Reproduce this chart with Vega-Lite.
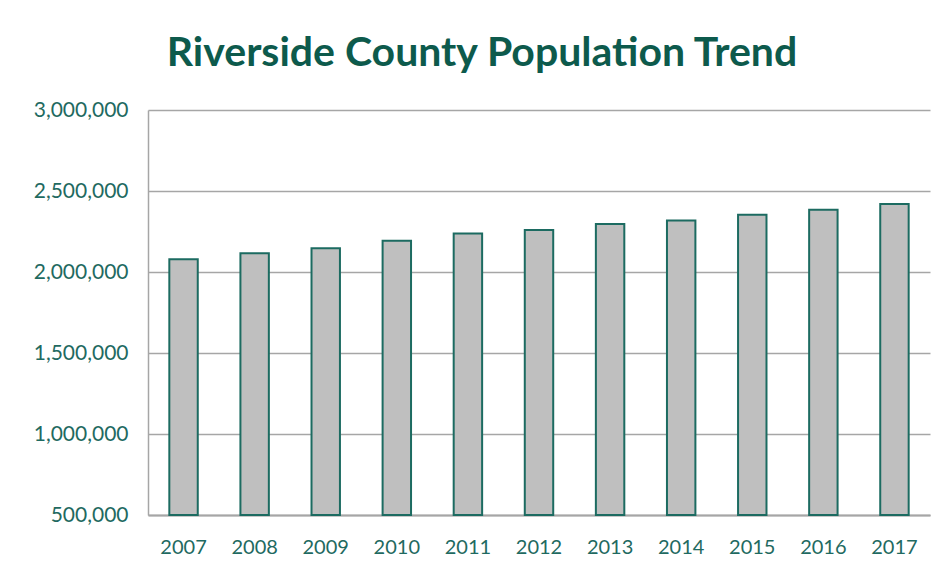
{
  "$schema": "https://vega.github.io/schema/vega-lite/v6.json",
  "width": 782,
  "height": 405,
  "autosize": "none",
  "padding": {"left": 148, "top": 110, "right": 18, "bottom": 60},
  "background": "white",
  "title": {
    "text": "Riverside County Population Trend",
    "font": "Lato",
    "fontSize": 41,
    "fontWeight": "bold",
    "color": "#0d5a4c",
    "anchor": "middle",
    "baseline": "alphabetic",
    "dx": -57,
    "offset": -8
  },
  "data": {
    "values": [
      {"year": "2007", "population": 2078000},
      {"year": "2008", "population": 2115000},
      {"year": "2009", "population": 2146000},
      {"year": "2010", "population": 2193000},
      {"year": "2011", "population": 2238000},
      {"year": "2012", "population": 2260000},
      {"year": "2013", "population": 2297000},
      {"year": "2014", "population": 2318000},
      {"year": "2015", "population": 2354000},
      {"year": "2016", "population": 2385000},
      {"year": "2017", "population": 2420000}
    ]
  },
  "mark": {"type": "bar", "fill": "#bfbfbf", "stroke": "#1c6b61", "strokeWidth": 2},
  "encoding": {
    "x": {
      "field": "year",
      "type": "ordinal",
      "scale": {"paddingInner": 0.6, "paddingOuter": 0.3},
      "axis": {
        "title": null,
        "labelAngle": 0,
        "labelFont": "Lato",
        "labelFontSize": 20,
        "labelColor": "#1f6a61",
        "labelPadding": 22,
        "ticks": false,
        "domainColor": "#a6a6a6",
        "domainWidth": 2
      }
    },
    "y": {
      "field": "population",
      "type": "quantitative",
      "scale": {"domain": [500000, 3000000], "zero": false, "nice": false},
      "axis": {
        "title": null,
        "values": [500000, 1000000, 1500000, 2000000, 2500000, 3000000],
        "format": ",d",
        "labelFont": "Lato",
        "labelFontSize": 21,
        "labelColor": "#1f6a61",
        "labelPadding": 20,
        "ticks": false,
        "grid": true,
        "gridColor": "#a6a6a6",
        "gridWidth": 1.5,
        "domainColor": "#a6a6a6",
        "domainWidth": 1.5
      }
    },
    "y2": {"datum": 500000}
  },
  "config": {"view": {"stroke": null}}
}
